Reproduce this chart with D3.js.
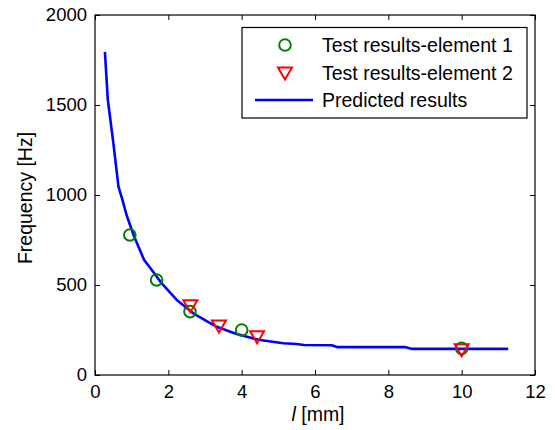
<!DOCTYPE html>
<html>
<head>
<meta charset="utf-8">
<script src="https://cdn.jsdelivr.net/npm/d3@7"></script>
<style>
  body { margin: 0; background: #fff; }
  svg { display: block; }
  text { font-family: "Liberation Sans", Arial, Helvetica, sans-serif; }
</style>
</head>
<body>
<svg id="chart" width="555" height="430"></svg>
<script>
// ---- data ----
const xTicks = [0, 2, 4, 6, 8, 10, 12];
const yTicks = [0, 500, 1000, 1500, 2000];

const element1L = [0.95, 1.68, 2.59, 4.0, 10.0];
const element1F = [778, 528, 352, 250, 148];

const element2L = [2.6, 3.38, 4.42, 10.0];
const element2F = [385, 272, 213, 140];

const predictedL = [0.27, 0.35, 0.5, 0.64, 0.75, 0.86, 1.07, 1.34, 1.55, 1.82, 2.23, 2.68, 3.32, 3.86, 4.5, 5.14, 5.5, 5.7, 6.45, 6.6, 8.45, 8.65, 11.27];
const predictedF = [1795, 1528, 1290, 1046, 972, 889, 768, 639, 583, 509, 417, 343, 268, 228, 194, 176, 172, 167, 165, 155, 155, 145, 145];

const legendLabels = ["Test results-element 1", "Test results-element 2", "Predicted results"];

(function () {
// ---- layout ----
const svg = d3.select("#chart");
const mLeft = 95, mRight = 535, mTop = 15, mBottom = 375;
const x = d3.scaleLinear().domain([0, 12]).range([mLeft, mRight]);
const y = d3.scaleLinear().domain([0, 2000]).range([mBottom, mTop]);
const fsTick = 18.5, fsLabel = 19.5;

// axes box
svg.append("rect").attr("x", mLeft).attr("y", mTop)
  .attr("width", mRight - mLeft).attr("height", mBottom - mTop)
  .attr("fill", "none").attr("stroke", "#000").attr("stroke-width", 1.2);

const tickLen = 5;
const bottomAxis = d3.axisBottom(x).tickValues(xTicks).tickSizeInner(-tickLen).tickSizeOuter(0).tickPadding(10).tickFormat(d3.format("d"));
const topAxis = d3.axisTop(x).tickValues(xTicks).tickSizeInner(-tickLen).tickSizeOuter(0).tickFormat("");
const leftAxis = d3.axisLeft(y).tickValues(yTicks).tickSizeInner(-tickLen).tickSizeOuter(0).tickPadding(8).tickFormat(d3.format("d"));
const rightAxis = d3.axisRight(y).tickValues(yTicks).tickSizeInner(-tickLen).tickSizeOuter(0).tickFormat("");

function styleAxis(g) {
  g.select(".domain").remove();
  g.selectAll(".tick line").attr("stroke", "#000").attr("stroke-width", 1);
  g.selectAll(".tick text").attr("fill", "#000").style("font-size", fsTick + "px");
}
svg.append("g").attr("transform", `translate(0,${mBottom})`).call(bottomAxis).call(styleAxis);
svg.append("g").attr("transform", `translate(0,${mTop})`).call(topAxis).call(styleAxis);
svg.append("g").attr("transform", `translate(${mLeft},0)`).call(leftAxis).call(styleAxis);
svg.append("g").attr("transform", `translate(${mRight},0)`).call(rightAxis).call(styleAxis);

// axis labels
const xl = svg.append("text").attr("x", 318).attr("y", 421)
  .attr("text-anchor", "middle").style("font-size", fsLabel + "px");
xl.append("tspan").style("font-style", "italic").text("l");
xl.append("tspan").text(" [mm]");

svg.append("text").attr("transform", `translate(32,${(mTop + mBottom) / 2 + 3}) rotate(-90)`)
  .attr("text-anchor", "middle").style("font-size", fsLabel + "px").text("Frequency [Hz]");

// predicted line
const predicted = predictedL.map((l, i) => [l, predictedF[i]]);
svg.append("path").datum(predicted)
  .attr("d", d3.line().x(d => x(d[0])).y(d => y(d[1])))
  .attr("fill", "none").attr("stroke", "#0000ff").attr("stroke-width", 2.6)
  .attr("stroke-linejoin", "round");

// markers
const triPath = "M-7,-5.5 L7,-5.5 L0,6.5 Z";
const e1 = element1L.map((l, i) => [l, element1F[i]]);
const e2 = element2L.map((l, i) => [l, element2F[i]]);
svg.append("g").selectAll("circle").data(e1).join("circle")
  .attr("cx", d => x(d[0])).attr("cy", d => y(d[1])).attr("r", 5.8)
  .attr("fill", "none").attr("stroke", "#008000").attr("stroke-width", 2);
svg.append("g").selectAll("path").data(e2).join("path")
  .attr("transform", d => `translate(${x(d[0])},${y(d[1])})`).attr("d", triPath)
  .attr("fill", "none").attr("stroke", "#ff0000").attr("stroke-width", 2).attr("stroke-linejoin", "miter");

// legend
const lg = svg.append("g");
lg.append("rect").attr("x", 242).attr("y", 27.5).attr("width", 285).attr("height", 90.5)
  .attr("fill", "#fff").attr("stroke", "#000").attr("stroke-width", 1.2);
const rows = [45, 73, 100];
lg.append("circle").attr("cx", 285).attr("cy", rows[0]).attr("r", 5.8)
  .attr("fill", "none").attr("stroke", "#008000").attr("stroke-width", 2);
lg.append("path").attr("transform", `translate(285,${rows[1]})`).attr("d", triPath)
  .attr("fill", "none").attr("stroke", "#ff0000").attr("stroke-width", 2);
lg.append("line").attr("x1", 255).attr("x2", 313).attr("y1", rows[2]).attr("y2", rows[2])
  .attr("stroke", "#0000ff").attr("stroke-width", 2.6);
lg.selectAll("text.lbl").data(legendLabels).join("text").attr("class", "lbl")
  .attr("x", 322).attr("y", (d, i) => rows[i]).attr("dy", "0.35em")
  .style("font-size", fsLabel + "px").text(d => d);
})();
</script>
</body>
</html>
